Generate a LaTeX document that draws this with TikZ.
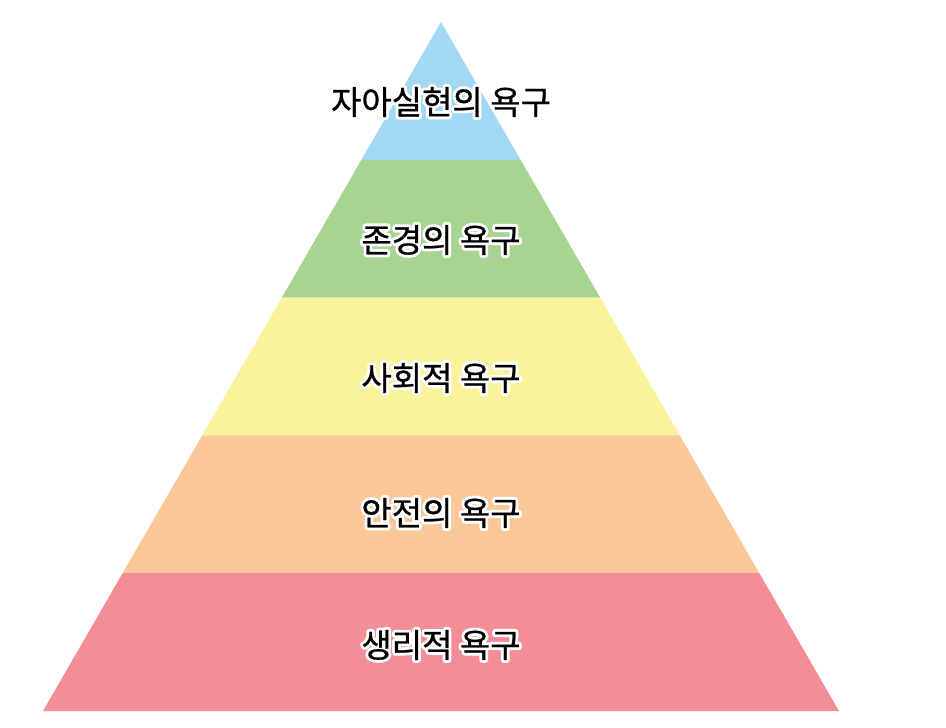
\documentclass[tikz,border=0pt]{standalone}
\usepackage{fontspec}
\newfontfamily\kr[FakeBold=0.8]{Noto Sans CJK KR}
\newfontfamily\krhalo{Noto Sans CJK KR}
\definecolor{cblue}{RGB}{163,216,244}
\definecolor{cgreen}{RGB}{168,212,145}
\definecolor{cyellow}{RGB}{250,243,155}
\definecolor{corange}{RGB}{250,200,152}
\definecolor{cpink}{RGB}{243,141,152}
\tikzset{
  lbl/.style={font=\kr\fontsize{33}{36}\selectfont, text=black, inner sep=0pt, anchor=center},
  halo/.style={font=\krhalo\fontsize{33}{36}\selectfont, text=white, inner sep=0pt, anchor=center},
}
\newcommand{\halolabel}[3]{%
  \node[halo] at (#1) {\special{pdf:literal direct 1 Tr 6 w 1 j 1 1 1 RG}#3\special{pdf:literal direct 0 Tr}};
  \node[lbl] (#2) at (#1) {#3};
}
\begin{document}
\begin{tikzpicture}[x=1pt,y=-1pt]
\useasboundingbox (0,0) rectangle (946,728);
\coordinate (apex) at (441,22);
\coordinate (bl) at (43,711);
\coordinate (br) at (839,711);
\path (apex) -- (bl) coordinate[pos=0.2] (l1) coordinate[pos=0.4] (l2) coordinate[pos=0.6] (l3) coordinate[pos=0.8] (l4);
\path (apex) -- (br) coordinate[pos=0.2] (r1) coordinate[pos=0.4] (r2) coordinate[pos=0.6] (r3) coordinate[pos=0.8] (r4);
\fill[cblue] (apex) -- (l1) -- (r1) -- cycle;
\fill[cgreen] (l1) -- (l2) -- (r2) -- (r1) -- cycle;
\fill[cyellow] (l2) -- (l3) -- (r3) -- (r2) -- cycle;
\fill[corange] (l3) -- (l4) -- (r4) -- (r3) -- cycle;
\fill[cpink] (l4) -- (bl) -- (br) -- (r4) -- cycle;
\coordinate (p1) at (441,102);
\coordinate (p2) at (441,240);
\coordinate (p3) at (441,378);
\coordinate (p4) at (441,513);
\coordinate (p5) at (441,645);
\halolabel{p1}{t1}{자아실현의 욕구}
\halolabel{p2}{t2}{존경의 욕구}
\halolabel{p3}{t3}{사회적 욕구}
\halolabel{p4}{t4}{안전의 욕구}
\halolabel{p5}{t5}{생리적 욕구}
\end{tikzpicture}
\end{document}
